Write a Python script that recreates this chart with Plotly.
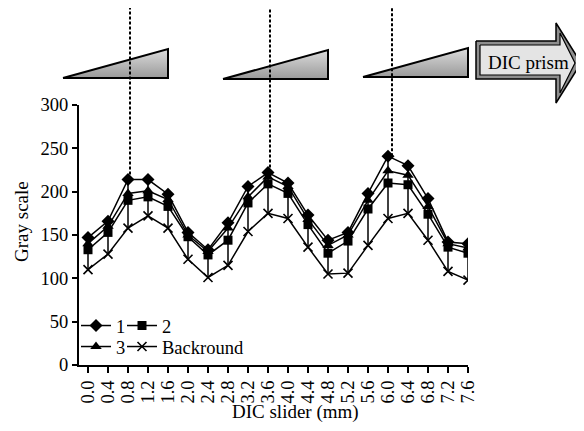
import plotly.graph_objects as go

# ---------------- data ----------------
slider_mm = [0.0, 0.4, 0.8, 1.2, 1.6, 2.0, 2.4, 2.8, 3.2, 3.6,
             4.0, 4.4, 4.8, 5.2, 5.6, 6.0, 6.4, 6.8, 7.2, 7.6]
tick_labels = ["0.0", "0.4", "0.8", "1.2", "1.6", "2.0", "2.4", "2.8", "3.2", "3.6",
               "4.0", "4.4", "4.8", "5.2", "5.6", "6.0", "6.4", "6.8", "7.2", "7.6"]
series_1 = [147, 166, 214, 214, 197, 153, 133, 164, 206, 222,
            210, 173, 144, 153, 198, 241, 230, 192, 142, 140]
series_2 = [133, 153, 190, 194, 183, 148, 127, 144, 187, 209,
            198, 162, 129, 143, 180, 210, 208, 174, 136, 129]
series_3 = [140, 160, 198, 201, 191, 150, 131, 158, 194, 217,
            206, 168, 138, 150, 190, 224, 219, 183, 140, 135]
backround = [110, 128, 158, 172, 158, 122, 101, 115, 154, 175,
             169, 136, 105, 106, 138, 169, 175, 144, 108, 98]
y_ticks = [0, 50, 100, 150, 200, 250, 300]

# positions of the dashed prism markers (x in mm) and the peak they reach
dashed_x = [0.84, 3.64, 6.08]
peak_index = [2, 9, 15]

# ---------------- geometry (page pixels) ----------------
PAGE_W, PAGE_H = 584, 431
OFF = 8                      # default body margin of the html page
W, H = PAGE_W - OFF, PAGE_H - OFF


def px(x):
    return (x - OFF) / W


def py(y):
    return 1 - (y - OFF) / H


wedges = [  # (left x, right x, top y, base y)
    (63, 168, 49, 78),
    (223, 328, 50, 79),
    (363, 468, 48, 77),
]
arrow_outer_x = [476, 556, 556, 581, 556, 556, 476, 476]
arrow_outer_y = [41, 41, 23, 63, 103, 79, 79, 41]
arrow_inner_x = [480, 560, 560, 575, 560, 560, 480, 480]
arrow_inner_y = [45, 45, 33, 63, 93, 75, 75, 45]

# legend slots: (legend id, left x, centre y) in page pixels
legend_slots = {
    "legend": (76, 326),
    "legend2": (122, 326),
    "legend3": (76, 347),
    "legend4": (122, 347),
}

FONT = "Liberation Serif"
FS = 18.5
FS_TITLE = 19

x_dom = [px(79), px(468)]
y_dom = [py(365), py(105)]

fig = go.Figure()

line_style = dict(color="black", width=1.5)

fig.add_trace(go.Scatter(
    x=slider_mm, y=backround, mode="lines+markers", name="Backround",
    line=line_style,
    marker=dict(symbol="x-thin", size=9, color="black", line=dict(width=1.6, color="black")),
    legend="legend4"))
fig.add_trace(go.Scatter(
    x=slider_mm, y=series_3, mode="lines+markers", name="3",
    line=line_style, marker=dict(symbol="triangle-up", size=10, color="black"),
    legend="legend3"))
fig.add_trace(go.Scatter(
    x=slider_mm, y=series_2, mode="lines+markers", name="2",
    line=line_style, marker=dict(symbol="square", size=9, color="black"),
    legend="legend2"))
fig.add_trace(go.Scatter(
    x=slider_mm, y=series_1, mode="lines+markers", name="1",
    line=line_style, marker=dict(symbol="diamond", size=10, color="black"),
    error_y=dict(type="data", symmetric=False, array=[0] * len(series_1),
                 arrayminus=[a - b for a, b in zip(series_1, backround)],
                 color="black", thickness=1.5, width=0),
    legend="legend"))

# ---- decorations on an overlay subplot in page-pixel coordinates ----
for (xl, xr, yt, yb) in wedges:
    fig.add_trace(go.Scatter(
        x=[xl, xr, xr, xl], y=[yb, yt, yb, yb], xaxis="x2", yaxis="y2",
        mode="lines", fill="toself", line=dict(color="black", width=2),
        fillgradient=dict(type="vertical", start=yt, stop=yb,
                          colorscale=[[0, "#dcdcdc"], [1, "#9a9a9a"]]),
        showlegend=False, hoverinfo="skip"))

fig.add_trace(go.Scatter(
    x=arrow_outer_x, y=arrow_outer_y, xaxis="x2", yaxis="y2",
    mode="lines", fill="toself", fillcolor="#8e8e8e",
    line=dict(color="black", width=1.5), showlegend=False, hoverinfo="skip"))
fig.add_trace(go.Scatter(
    x=arrow_inner_x, y=arrow_inner_y, xaxis="x2", yaxis="y2",
    mode="lines", fill="toself", fillcolor="#e4e4e4",
    line=dict(color="black", width=1.2), showlegend=False, hoverinfo="skip"))

# dashed prism-position lines: from the peak of series 1 up to the top
for xv, idx in zip(dashed_x, peak_index):
    frac = y_dom[0] + (series_1[idx] / 300) * (y_dom[1] - y_dom[0])
    fig.add_shape(type="line", xref="x", yref="paper", x0=xv, x1=xv,
                  y0=frac, y1=1,
                  line=dict(color="black", width=2, dash="3px,2px"))

fig.add_annotation(x=528, y=62, xref="x2", yref="y2", text="DIC prism",
                   showarrow=False, xanchor="center", yanchor="middle",
                   font=dict(family=FONT, size=FS_TITLE, color="black"))
fig.add_annotation(x=px(22), y=py(222), xref="paper", yref="paper",
                   text="Gray scale", textangle=-90, showarrow=False,
                   xanchor="center", yanchor="middle",
                   font=dict(family=FONT, size=FS_TITLE, color="black"))
fig.add_annotation(x=px(295), y=py(412), xref="paper", yref="paper",
                   text="DIC slider (mm)", showarrow=False,
                   xanchor="center", yanchor="middle",
                   font=dict(family=FONT, size=FS_TITLE, color="black"))

legend_common = dict(orientation="h", xanchor="left", yanchor="middle",
                     font=dict(family=FONT, size=FS, color="black"),
                     bgcolor="rgba(0,0,0,0)", itemwidth=30, tracegroupgap=0,
                     borderwidth=0, itemclick=False, itemdoubleclick=False)
legends = {lid: dict(x=px(lx), y=py(ly), **legend_common)
           for lid, (lx, ly) in legend_slots.items()}

fig.update_layout(
    width=W, height=H,
    margin=dict(l=0, r=0, t=0, b=0, pad=0, autoexpand=False),
    paper_bgcolor="white", plot_bgcolor="rgba(0,0,0,0)",
    font=dict(family=FONT, size=FS, color="black"),
    xaxis=dict(domain=x_dom, range=[-0.18, 7.6], tickmode="array",
               tickvals=slider_mm, ticktext=tick_labels, tickangle=-90,
               showline=True, linecolor="black", linewidth=2,
               ticks="outside", ticklen=6, tickwidth=2, tickcolor="black",
               showgrid=False, zeroline=False, anchor="y", automargin=False,
               tickfont=dict(family=FONT, size=FS, color="black")),
    yaxis=dict(domain=y_dom, range=[0, 300], tickmode="array", tickvals=y_ticks,
               showline=True, linecolor="black", linewidth=2,
               ticks="outside", ticklen=5, tickwidth=2, tickcolor="black",
               showgrid=False, zeroline=False, anchor="x", automargin=False,
               tickfont=dict(family=FONT, size=FS, color="black")),
    xaxis2=dict(domain=[0, 1], range=[OFF, PAGE_W], visible=False, anchor="y2",
                fixedrange=True, automargin=False),
    yaxis2=dict(domain=[0, 1], range=[PAGE_H, OFF], visible=False, anchor="x2",
                fixedrange=True, automargin=False),
    showlegend=True,
    **legends,
)

fig.write_html("out.html")
